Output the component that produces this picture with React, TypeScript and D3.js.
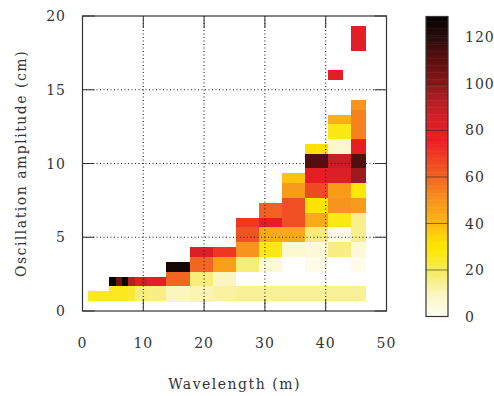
import * as d3 from "d3"

// column edges along the wavelength axis (m)
const xEdges = [0.9, 4.36, 5.46, 6.5, 7.53, 8.59, 9.54, 10.56, 13.73, 17.68, 21.5, 25.25, 29.03, 32.8, 36.6, 40.38, 44.16, 46.6]

// per column: [amplitude from, amplitude to, count]
const columns: [number, number, number][][] = [
  [[0.68, 1.36, 26]],
  [[0.68, 1.67, 26], [1.67, 2.33, 129]],
  [[0.68, 1.67, 26], [1.67, 2.33, 106]],
  [[0.68, 1.67, 26], [1.67, 2.33, 126]],
  [[0.68, 1.67, 24], [1.67, 2.33, 92]],
  [[0.68, 1.67, 17], [1.67, 2.33, 80]],
  [[0.68, 1.67, 17], [1.67, 2.33, 88]],
  [[0.68, 1.67, 16], [1.67, 2.33, 78]],
  [[0.61, 1.67, 10], [1.67, 2.67, 60], [2.67, 3.32, 125]],
  [[0.61, 1.67, 11], [1.67, 2.67, 17], [2.67, 3.67, 60], [3.67, 4.32, 83]],
  [[0.68, 1.67, 13], [1.67, 2.67, 10], [2.67, 3.67, 47], [3.67, 4.32, 70]],
  [[0.68, 1.67, 14], [2.67, 3.67, 17], [3.67, 4.67, 50], [4.67, 5.67, 64], [5.67, 6.28, 70]],
  [[0.68, 1.67, 14], [2.67, 3.67, 6], [3.67, 4.67, 27], [4.67, 5.67, 44], [5.67, 6.28, 79], [6.28, 7.3, 61]],
  [[0.68, 1.67, 14], [3.67, 4.67, 7], [4.67, 5.67, 44], [5.67, 7.67, 65], [7.67, 8.67, 48], [8.67, 9.34, 38]],
  [[0.68, 1.67, 14], [2.67, 3.67, 2], [3.67, 4.67, 5], [4.67, 5.67, 17], [5.67, 6.67, 44], [6.67, 7.67, 30], [7.67, 8.67, 66], [8.67, 9.67, 79], [9.67, 10.67, 112], [10.67, 11.32, 32]],
  [[0.68, 1.67, 14], [3.67, 4.67, 16], [4.67, 5.67, 2], [5.67, 6.67, 27], [6.67, 7.67, 50], [7.67, 8.67, 48], [8.67, 9.67, 83], [9.67, 10.67, 89], [10.67, 11.67, 8], [11.67, 12.67, 27], [12.67, 13.29, 43]],
  [[0.68, 1.67, 14], [2.67, 3.67, 2], [3.67, 4.67, 5], [4.67, 5.67, 15], [5.67, 6.67, 15], [6.67, 7.67, 48], [7.67, 8.67, 28], [8.67, 9.67, 97], [9.67, 10.67, 112], [10.67, 11.67, 78], [11.67, 13.63, 54], [13.63, 14.31, 50], [17.63, 18.31, 82], [18.31, 19.32, 80]],
]

// lone cell: [x from, x to, y from, y to, count]
const extraCells: [number, number, number, number, number][] = [[40.38, 42.9, 15.66, 16.34, 81]]

const xTicks = [0, 10, 20, 30, 40, 50]
const yTicks = [0, 5, 10, 15, 20]
const cbTicks = [0, 20, 40, 60, 80, 100, 120]

const paletteStops = [0, 10, 20, 28, 32, 40, 50, 60, 68, 76, 84, 92, 100, 110, 120, 130]
const paletteColors = ["#fffef2", "#fbf5c0", "#f6ea5a", "#fde80a", "#ffe000", "#fdb913", "#f7941d", "#f26522", "#ef4123", "#ed1c24", "#da1f26", "#b71f25", "#8b1a1a", "#5e0e0e", "#2b0d0d", "#000000"]

const font = "'DejaVu Serif', serif"
const ink = "#333"

export default function App() {
  const x = d3.scaleLinear().domain([0, 50]).range([82.5, 386.5])
  const y = d3.scaleLinear().domain([0, 20]).range([311, 16])
  const color = d3.scaleLinear<string>().domain(paletteStops).range(paletteColors).clamp(true)
  const cb = d3.scaleLinear().domain([0, 129]).range([316.5, 16.5])
  const cbX = 426
  const cbW = 22
  const tick = 12

  const cells: { x0: number; x1: number; y0: number; y1: number; v: number }[] = []
  columns.forEach((col, i) =>
    col.forEach(([y0, y1, v]) => cells.push({ x0: xEdges[i], x1: xEdges[i + 1], y0, y1, v }))
  )
  extraCells.forEach(([x0, x1, y0, y1, v]) => cells.push({ x0, x1, y0, y1, v }))

  const strips = d3.range(0, 129, 1)

  return (
    <svg width={494} height={396} style={{ position: "absolute", left: 0, top: 0, background: "#fff" }}>
      {cells.map((c, i) => (
        <rect
          key={i}
          x={x(c.x0)}
          y={y(c.y1)}
          width={x(c.x1) - x(c.x0)}
          height={y(c.y0) - y(c.y1)}
          fill={color(c.v)}
          shapeRendering="crispEdges"
        />
      ))}

      {/* grid */}
      {xTicks.slice(1, -1).map((t) => (
        <line key={"gx" + t} x1={x(t)} x2={x(t)} y1={y(0)} y2={y(20)} stroke="#222" strokeWidth={1.1} strokeDasharray="1,2.5" />
      ))}
      {yTicks.slice(1, -1).map((t) => (
        <line key={"gy" + t} x1={x(0)} x2={x(50)} y1={y(t)} y2={y(t)} stroke="#222" strokeWidth={1.1} strokeDasharray="1,2.5" />
      ))}

      {/* ticks */}
      {xTicks.map((t) => (
        <g key={"tx" + t} stroke={ink} strokeWidth={1}>
          <line x1={x(t)} x2={x(t)} y1={y(0)} y2={y(0) - tick} />
          <line x1={x(t)} x2={x(t)} y1={y(20)} y2={y(20) + tick} />
        </g>
      ))}
      {yTicks.map((t) => (
        <g key={"ty" + t} stroke={ink} strokeWidth={1}>
          <line x1={x(0)} x2={x(0) + tick} y1={y(t)} y2={y(t)} />
          <line x1={x(50)} x2={x(50) - tick} y1={y(t)} y2={y(t)} />
        </g>
      ))}
      <rect x={x(0)} y={y(20)} width={x(50) - x(0)} height={y(0) - y(20)} fill="none" stroke={ink} strokeWidth={1.2} />

      {/* tick labels */}
      {xTicks.map((t) => (
        <text key={"lx" + t} x={x(t)} y={348} textAnchor="middle" fontFamily={font} fontSize={14} fill={ink} letterSpacing={1}>
          {t}
        </text>
      ))}
      {yTicks.map((t) => (
        <text key={"ly" + t} x={66} y={y(t)} dy="0.36em" textAnchor="end" fontFamily={font} fontSize={14} fill={ink} letterSpacing={1}>
          {t}
        </text>
      ))}

      <text x={(x(0) + x(50)) / 2} y={389} textAnchor="middle" fontFamily={font} fontSize={14} fill={ink} letterSpacing={1.5}>
        Wavelength (m)
      </text>
      <text
        transform={`translate(26,${(y(0) + y(20)) / 2}) rotate(-90)`}
        textAnchor="middle"
        fontFamily={font}
        fontSize={14}
        fill={ink}
        letterSpacing={1.5}
      >
        Oscillation amplitude (cm)
      </text>

      {/* colour box */}
      {strips.map((s) => (
        <rect key={"cb" + s} x={cbX} y={cb(s + 1)} width={cbW} height={cb(s) - cb(s + 1) + 0.5} fill={color(s + 0.5)} />
      ))}
      {cbTicks.slice(1).map((t) => (
        <line key={"ct" + t} x1={cbX} x2={cbX + cbW} y1={cb(t)} y2={cb(t)} stroke="#222" strokeOpacity={0.7} strokeWidth={0.8} />
      ))}
      <rect x={cbX} y={cb(129)} width={cbW} height={cb(0) - cb(129)} fill="none" stroke={ink} strokeWidth={1.2} />
      {cbTicks.map((t) => (
        <text key={"cl" + t} x={465} y={cb(t)} dy="0.36em" fontFamily={font} fontSize={14} fill={ink} letterSpacing={1}>
          {t}
        </text>
      ))}
    </svg>
  )
}
